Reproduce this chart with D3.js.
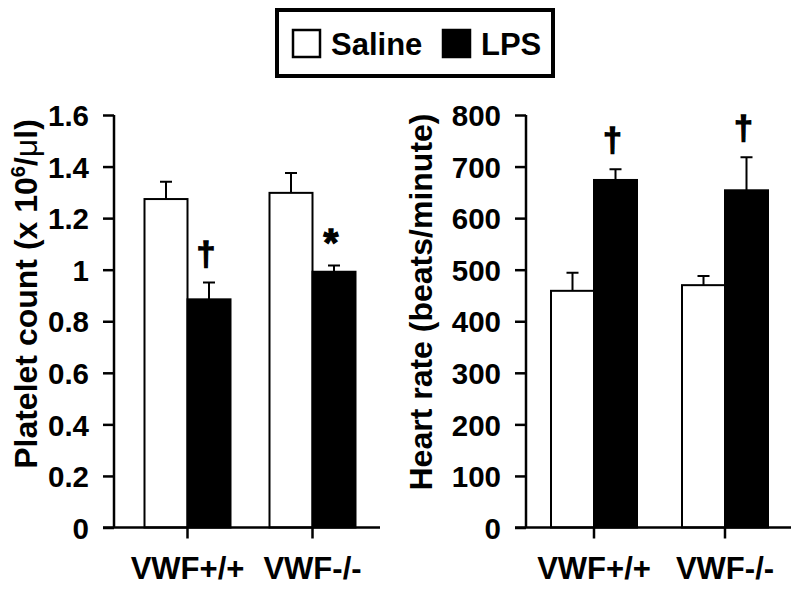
<!DOCTYPE html>
<html>
<head>
<meta charset="utf-8">
<script src="https://cdn.jsdelivr.net/npm/d3@7"></script>
<style>
  body { margin: 0; background: #fff; }
  text { font-family: "Liberation Sans", Arial, sans-serif; font-weight: bold; fill: #000; }
</style>
</head>
<body>
<div class="chartContainer"></div>
<script>
// groups and series
const groups = ['VWF+/+', 'VWF-/-'];
const series = ['Saline', 'LPS'];
const seriesFill = ['#fff', '#000'];

// platelet count (x 10^6/ul)
const plateletMean = [[1.274, 0.885], [1.298, 0.992]];
const plateletErr = [[0.067, 0.065], [0.077, 0.024]];
const plateletMarks = [['', '†'], ['', '*']];
const plateletTicks = [0, 0.2, 0.4, 0.6, 0.8, 1, 1.2, 1.4, 1.6];

// heart rate (beats/minute)
const heartMean = [[459, 674], [470, 654]];
const heartErr = [[35, 21], [18, 64]];
const heartMarks = [['', '†'], ['', '†']];
const heartTicks = [0, 100, 200, 300, 400, 500, 600, 700, 800];

const width = 800, height = 590;
const y0 = 527.5, y1 = 115;
const barW = 43;

const svg = d3.select('.chartContainer')
  .append('svg')
  .attr('width', width)
  .attr('height', height);

// legend
const legend = svg.append('g');
legend.append('rect')
  .attr('x', 277).attr('y', 10).attr('width', 276).attr('height', 66)
  .attr('fill', '#fff').attr('stroke', '#000').attr('stroke-width', 4);
const legendX = [293, 443];
series.forEach(function(s, i) {
  legend.append('rect')
    .attr('x', legendX[i]).attr('y', 30).attr('width', 27).attr('height', 27)
    .attr('fill', seriesFill[i]).attr('stroke', '#000').attr('stroke-width', 2.5);
  legend.append('text')
    .attr('x', legendX[i] + 38).attr('y', 55)
    .style('font-size', '31px')
    .text(s);
});

function drawPanel(opt) {
  const g = svg.append('g');
  const yScale = d3.scaleLinear().domain(opt.domain).range([y0, y1]);
  const xScale = d3.scaleBand().domain(groups).range(opt.xRange);
  const step = xScale.bandwidth();
  const sub = d3.scaleBand().domain(series).range([step / 2 - barW, step / 2 + barW]);

  const rows = [];
  groups.forEach(function(gr, i) {
    series.forEach(function(s, j) {
      rows.push({ group: gr, s: s, j: j, v: opt.mean[i][j], e: opt.err[i][j], mark: opt.marks[i][j] });
    });
  });

  const bx = d => xScale(d.group) + sub(d.s);

  // error bars (upper only)
  g.selectAll('.err')
    .data(rows)
    .enter()
    .append('path')
    .attr('d', function(d) {
      const cx = bx(d) + barW / 2;
      return 'M' + cx + ',' + yScale(d.v) + 'V' + yScale(d.v + d.e) +
        'M' + (cx - 6) + ',' + yScale(d.v + d.e) + 'H' + (cx + 6);
    })
    .attr('stroke', '#000').attr('stroke-width', 2).attr('fill', 'none');

  g.selectAll('.bar')
    .data(rows)
    .enter()
    .append('rect')
    .attr('x', bx)
    .attr('y', d => yScale(d.v))
    .attr('width', barW)
    .attr('height', d => y0 - yScale(d.v))
    .attr('fill', d => seriesFill[d.j])
    .attr('stroke', '#000').attr('stroke-width', 2);

  // significance marks
  g.selectAll('.mark')
    .data(rows.filter(d => d.mark))
    .enter()
    .append('text')
    .attr('x', d => bx(d) + barW / 2 - 3)
    .attr('y', d => yScale(d.v + d.e) - (d.mark == '*' ? 10 : 18))
    .attr('text-anchor', 'middle')
    .style('font-size', d => d.mark == '*' ? '38px' : '34px')
    .style('stroke', '#000').style('stroke-width', 1.3)
    .text(d => d.mark);

  // y axis
  const yAxis = g.append('g')
    .attr('transform', 'translate(' + opt.axisX + ',0)')
    .call(d3.axisLeft(yScale).tickValues(opt.ticks).tickFormat(d => String(d)).tickSize(11).tickPadding(14));
  yAxis.select('.domain').remove();
  yAxis.selectAll('line').attr('stroke', '#000').attr('stroke-width', 2.5);
  yAxis.selectAll('text').style('font-size', '29.5px').attr('dy', '0.36em');
  g.append('line')
    .attr('x1', opt.axisX).attr('x2', opt.axisX).attr('y1', y1).attr('y2', y0)
    .attr('stroke', '#000').attr('stroke-width', 2.5);

  // x axis
  const xAxis = g.append('g')
    .attr('transform', 'translate(0,' + y0 + ')')
    .call(d3.axisBottom(xScale).tickSize(11).tickPadding(18));
  xAxis.select('.domain').remove();
  xAxis.selectAll('line').attr('stroke', '#000').attr('stroke-width', 2.5);
  xAxis.selectAll('text').style('font-size', '31px');
  g.append('line')
    .attr('x1', opt.axisX - 11).attr('x2', opt.xEnd).attr('y1', y0).attr('y2', y0)
    .attr('stroke', '#000').attr('stroke-width', 2.5);

  // axis title
  const title = g.append('text')
    .attr('transform', 'translate(' + opt.titleX + ',' + opt.titleY + ') rotate(-90)')
    .attr('text-anchor', 'middle')
    .style('font-size', '32px');
  opt.title(title);
}

drawPanel({
  domain: [0, 1.6], ticks: plateletTicks,
  mean: plateletMean, err: plateletErr, marks: plateletMarks,
  xRange: [125, 375], axisX: 114, xEnd: 380,
  titleX: 37, titleY: 294,
  title: function(t) {
    t.append('tspan').text('Platelet count (x 10');
    t.append('tspan').text('6').style('font-size', '20px').attr('dy', -12);
    t.append('tspan').text('/').attr('dy', 12);
    t.append('tspan').text('μ').style('font-weight', 'normal');
    t.append('tspan').text('l)');
  }
});

drawPanel({
  domain: [0, 800], ticks: heartTicks,
  mean: heartMean, err: heartErr, marks: heartMarks,
  xRange: [528.5, 790.5], axisX: 526, xEnd: 791,
  titleX: 432, titleY: 302,
  title: function(t) { t.text('Heart rate (beats/minute)'); }
});
</script>
</body>
</html>
